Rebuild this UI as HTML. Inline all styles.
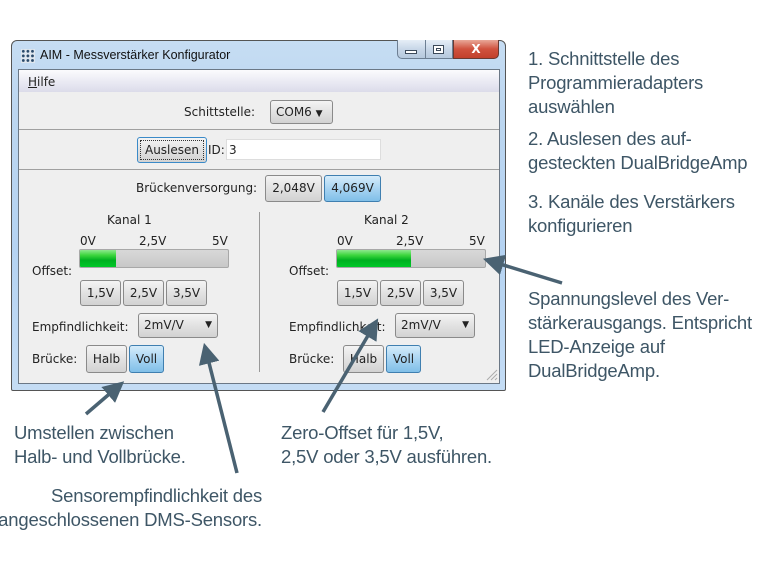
<!DOCTYPE html>
<html><head><meta charset="utf-8"><style>
*{margin:0;padding:0;box-sizing:border-box}
body{width:767px;height:575px;background:#fff;position:relative;overflow:hidden;font-family:"DejaVu Sans",sans-serif}
.a{position:absolute}
.g{font-size:12px;color:#222;white-space:nowrap;line-height:14px}
.btn{position:absolute;border:1px solid #8a8a8a;border-radius:3px;background:linear-gradient(#f4f4f4,#e2e2e2 50%,#d2d2d2);font-size:12px;color:#222;text-align:center;white-space:nowrap}
.sel{background:linear-gradient(#d6ecfa,#a8d4f2 50%,#80bfe8);border-color:#3f7fb0}
.t{position:absolute;font-family:"Liberation Sans",sans-serif;font-size:18.5px;color:#3e5666;line-height:24px;white-space:nowrap;letter-spacing:-0.2px}
.bar{position:absolute;border:1px solid #a8a8a8;border-radius:2px;background:linear-gradient(#d8d8d8,#c8c8c8);overflow:hidden}
.bar i{position:absolute;left:0;top:0;bottom:0;background:linear-gradient(#8ee88e,#3fd63f 30%,#00b020 60%,#00c828)}
</style></head><body>
<div class="a" style="left:11px;top:40px;width:495px;height:351px;border:1px solid #555;border-radius:6px 6px 2px 2px;background:linear-gradient(180deg,#c6ddf3,#bcd6f0 20%,#b5d3f2 60%,#c4dcf4)"></div>
<div class="a" style="left:21px;top:49px;width:14px;height:14px;background:
radial-gradient(circle,#2a4a6a 1.3px,transparent 1.5px) 0 0/4.6px 4.6px;background-color:#dfe7ef"></div>
<div class="a g" style="left:40px;top:48px;font-family:'Liberation Sans',sans-serif;font-size:12.5px;color:#111">AIM - Messverstärker Konfigurator</div>
<div class="a" style="left:397px;top:40px;width:56px;height:19px;border:1px solid #6d7f93;border-top:none;border-radius:0 0 0 5px;background:linear-gradient(#e6eef7,#c8d7e8 50%,#b6c9dd)"></div>
<div class="a" style="left:425px;top:40px;width:1px;height:19px;background:#6d7f93"></div>
<div class="a" style="left:405px;top:50px;width:12px;height:4px;border:1px solid #3c4a5a;background:#fff"></div>
<div class="a" style="left:433px;top:45px;width:11px;height:9px;border:1px solid #3c4a5a;background:#fff;box-shadow:inset 0 0 0 2px #fff,inset 0 0 0 3px #3c4a5a"></div>
<div class="a" style="left:453px;top:40px;width:46px;height:19px;border:1px solid #6a3a32;border-top:none;border-radius:0 0 5px 0;background:linear-gradient(#e9a898,#d0523e 50%,#c2402c);color:#fff;font:bold 12px 'DejaVu Sans',sans-serif;text-align:center;line-height:18px">X</div>
<div class="a" style="left:18px;top:69px;width:482px;height:315px;border:1px solid #6b7886;background:#efefef"></div>
<div class="a" style="left:19px;top:70px;width:480px;height:22px;background:linear-gradient(#fbfbfd,#e8e8f2 60%,#dcdcea)"></div>
<div class="a g" style="left:28px;top:75px"><u>H</u>ilfe</div>
<div class="a" style="left:19px;top:129px;width:480px;height:1px;background:#a0a0a0"></div>
<div class="a" style="left:19px;top:169px;width:480px;height:1px;background:#a0a0a0"></div>
<div class="a g" style="left:184px;top:105px">Schittstelle:</div>
<div class="btn" style="left:270px;top:100px;width:63px;height:24px;line-height:22px;text-align:left;padding-left:5px">COM6 <span style="font-size:9px">▼</span></div>
<div class="btn" style="left:137px;top:137px;width:70px;height:26px;line-height:24px;border-color:#3a8ac8;outline:1px dotted #333;outline-offset:-4px">Auslesen</div>
<div class="a g" style="left:208px;top:143px">ID:</div>
<div class="a g" style="left:226px;top:139px;width:155px;height:21px;background:#fff;border:1px solid #ddd;padding:3px 2px">3</div>
<div class="a g" style="left:136px;top:181px">Brückenversorgung:</div>
<div class="btn" style="left:265px;top:175px;width:57px;height:27px;line-height:25px">2,048V</div>
<div class="btn sel" style="left:324px;top:175px;width:57px;height:27px;line-height:25px">4,069V</div>
<div class="a" style="left:259px;top:212px;width:1px;height:160px;background:#999"></div>

<div class="a g" style="left:107px;top:213px">Kanal 1</div>
<div class="a g" style="left:80px;top:234px">0V</div>
<div class="a g" style="left:139px;top:234px">2,5V</div>
<div class="a g" style="left:212px;top:234px">5V</div>
<div class="bar" style="left:79px;top:249px;width:150px;height:19px"><i style="width:36px"></i></div>
<div class="a g" style="left:32px;top:264px">Offset:</div>
<div class="btn" style="left:80px;top:280px;width:41px;height:26px;line-height:24px">1,5V</div>
<div class="btn" style="left:123px;top:280px;width:41px;height:26px;line-height:24px">2,5V</div>
<div class="btn" style="left:166px;top:280px;width:41px;height:26px;line-height:24px">3,5V</div>
<div class="a g" style="left:32px;top:320px">Empfindlichkeit:</div>
<div class="btn" style="left:138px;top:313px;width:80px;height:25px;line-height:23px;text-align:left;padding-left:5px">2mV/V<span style="position:absolute;right:5px;font-size:9px">▼</span></div>
<div class="a g" style="left:32px;top:352px">Brücke:</div>
<div class="btn" style="left:86px;top:345px;width:41px;height:28px;line-height:26px">Halb</div>
<div class="btn sel" style="left:129px;top:345px;width:35px;height:28px;line-height:26px">Voll</div>

<div class="a g" style="left:364px;top:213px">Kanal 2</div>
<div class="a g" style="left:337px;top:234px">0V</div>
<div class="a g" style="left:396px;top:234px">2,5V</div>
<div class="a g" style="left:469px;top:234px">5V</div>
<div class="bar" style="left:336px;top:249px;width:150px;height:19px"><i style="width:74px"></i></div>
<div class="a g" style="left:289px;top:264px">Offset:</div>
<div class="btn" style="left:337px;top:280px;width:41px;height:26px;line-height:24px">1,5V</div>
<div class="btn" style="left:380px;top:280px;width:41px;height:26px;line-height:24px">2,5V</div>
<div class="btn" style="left:423px;top:280px;width:41px;height:26px;line-height:24px">3,5V</div>
<div class="a g" style="left:289px;top:320px">Empfindlichkeit:</div>
<div class="btn" style="left:395px;top:313px;width:80px;height:25px;line-height:23px;text-align:left;padding-left:5px">2mV/V<span style="position:absolute;right:5px;font-size:9px">▼</span></div>
<div class="a g" style="left:289px;top:352px">Brücke:</div>
<div class="btn" style="left:343px;top:345px;width:41px;height:28px;line-height:26px">Halb</div>
<div class="btn sel" style="left:386px;top:345px;width:35px;height:28px;line-height:26px">Voll</div>
<svg class="a" style="left:484px;top:367px" width="14" height="14"><g stroke="#aaa"><line x1="13" y1="3" x2="3" y2="13"/><line x1="13" y1="7" x2="7" y2="13"/><line x1="13" y1="11" x2="11" y2="13"/></g></svg>

<div class="t" style="left:528px;top:47px">1. Schnittstelle des<br>Programmieradapters<br>auswählen</div>
<div class="t" style="left:528px;top:127px">2. Auslesen des auf-<br>gesteckten DualBridgeAmp</div>
<div class="t" style="left:528px;top:190px">3. Kanäle des Verstärkers<br>konfigurieren</div>
<div class="t" style="left:528px;top:287px">Spannungslevel des Ver-<br>stärkerausgangs. Entspricht<br>LED-Anzeige auf<br>DualBridgeAmp.</div>
<div class="t" style="left:14px;top:421px">Umstellen zwischen<br>Halb- und Vollbrücke.</div>
<div class="t" style="left:281px;top:421px">Zero-Offset für 1,5V,<br>2,5V oder 3,5V ausführen.</div>
<div class="t" style="right:505px;top:484px;text-align:right">Sensorempfindlichkeit des<br>angeschlossenen DMS-Sensors.</div>

<svg class="a" style="left:0;top:0" width="767" height="575">
<defs><marker id="m" viewBox="0 0 10 10" refX="8" refY="5" markerWidth="6" markerHeight="6" orient="auto"><path d="M0,0L10,5L0,10z" fill="#4a6272"/></marker></defs>
<g stroke="#4a6272" stroke-width="3.5" fill="none" marker-end="url(#m)">
<line x1="86" y1="414" x2="121" y2="384"/>
<line x1="237" y1="473" x2="205" y2="347"/>
<line x1="323" y1="412" x2="376" y2="322"/>
<line x1="562" y1="283" x2="487" y2="260"/>
</g></svg>
</body></html>
